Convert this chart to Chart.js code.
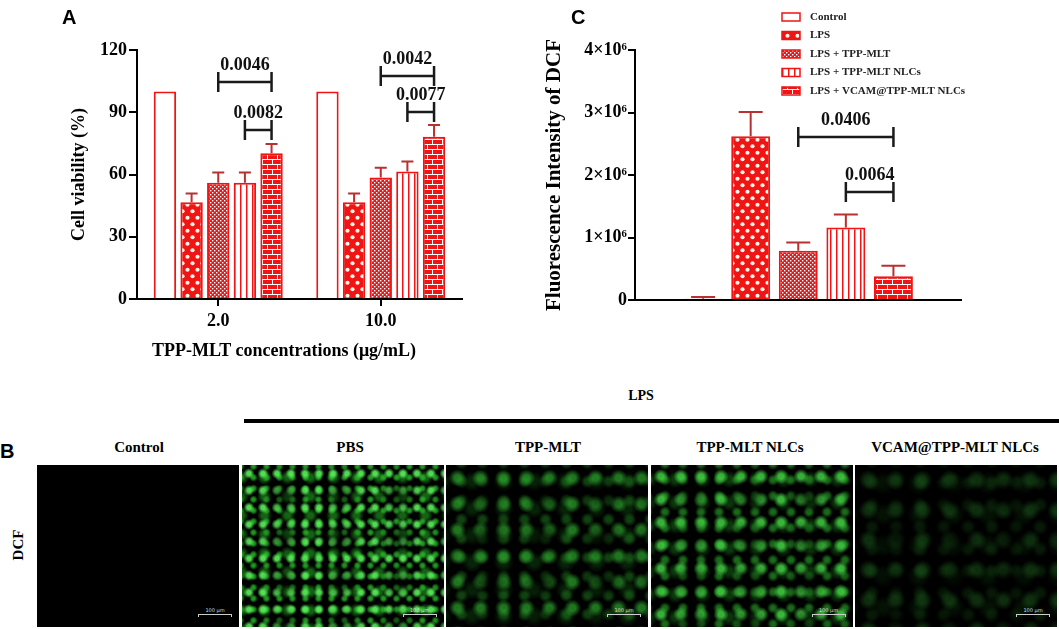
<!DOCTYPE html>
<html lang="en">
<head>
<meta charset="utf-8">
<title>Cell viability and DCF fluorescence</title>
<script src="https://cdn.jsdelivr.net/npm/chart.js@4.4.1/dist/chart.umd.min.js"></script>
<style>
  html, body { margin: 0; padding: 0; background: #fff; }
  body { position: relative; width: 1059px; height: 629px; overflow: hidden;
         font-family: "Liberation Serif", "Times New Roman", serif; color: #000; }
  canvas { position: absolute; display: block; }
  #chartA { left: 0; top: 0; }
  #chartC { left: 530px; top: 0; }
  .letter { position: absolute; font: bold 20px "Liberation Sans", Arial, sans-serif; line-height: 1; }
  .txt { position: absolute; font-weight: bold; white-space: nowrap; transform: translate(-50%, -50%); }
  .lps-line { position: absolute; left: 244px; top: 419px; width: 815px; height: 4px; background: #000; }
  .tile { position: absolute; top: 465px; height: 162px; background-color: #000; }
  .scalebar { position: absolute; right: 7px; bottom: 10px; width: 32px; height: 2px;
              border-top: 1px solid #ccc; border-left: 1px solid #ccc; border-right: 1px solid #ccc;
              color: #ddd; font: 5px "DejaVu Sans", sans-serif; text-align: center; line-height: 1; }
  .scalebar span { position: relative; top: -7px; }
  #axisC { position: absolute; height: 2px; background: #000; z-index: 5; }
</style>
</head>
<body>
<canvas id="chartA" width="480" height="370"></canvas>
<canvas id="chartC" width="529" height="320"></canvas>
<div id="axisC"></div>
<div class="letter" style="left:62px;top:7px">A</div>
<div class="letter" style="left:571px;top:7px">C</div>
<div class="letter" style="left:0;top:441px">B</div>
<div class="txt" style="left:284px;top:350px;font-size:18px">TPP-MLT concentrations (μg/mL)</div>
<div id="panelB"></div>

<script>
// ---- data ----
const groupNames = ['Control', 'LPS', 'LPS + TPP-MLT', 'LPS + TPP-MLT NLCs', 'LPS + VCAM@TPP-MLT NLCs'];

// panel A: cell viability (%) at two TPP-MLT concentrations
const concentrations = ['2.0', '10.0'];
const viabilityControl = [100, 100];
const viabilityLps = [46.6, 46.6];
const viabilityTppMlt = [56.0, 58.6];
const viabilityNlc = [56.0, 61.4];
const viabilityVcam = [70.2, 78.2];
const viabilitySd = [[0, 0], [4.3, 4.3], [5.0, 4.7], [5.0, 4.9], [4.5, 5.7]];
const viabilityTicks = [0, 30, 60, 90, 120];
const viabilityBrackets = [
  { a: [2, 0], b: [4, 0], level: 104.6, label: '0.0046' },
  { a: [3, 0], b: [4, 0], level: 81.4, label: '0.0082' },
  { a: [2, 1], b: [4, 1], level: 107.5, label: '0.0042' },
  { a: [3, 1], b: [4, 1], level: 90.1, label: '0.0077' }
];

// panel C: DCF fluorescence intensity
const dcfMeans = [0.02e6, 2.62e6, 0.79e6, 1.16e6, 0.38e6];
const dcfSd = [0.03e6, 0.39e6, 0.13e6, 0.21e6, 0.17e6];
const dcfTicks = [0, 1e6, 2e6, 3e6, 4e6];
const dcfBrackets = [
  { a: [0, 2], b: [0, 4], level: 2.61e6, label: '0.0406' },
  { a: [0, 3], b: [0, 4], level: 1.73e6, label: '0.0064' }
];

// panel B: image columns
const imageColumns = ['Control', 'PBS', 'TPP-MLT', 'TPP-MLT NLCs', 'VCAM@TPP-MLT NLCs'];

const SERIF = '"Liberation Serif", "Times New Roman", serif';
const RED = '#f01414';
const ERR = '#b83030';

// ---- bar fills ----
function makePattern(kind) {
  if (kind === 'open') return '#ffffff';
  const c = document.createElement('canvas');
  const g = c.getContext('2d');
  if (kind === 'diamond') {
    c.width = 10; c.height = 13;
    g.fillStyle = RED; g.fillRect(0, 0, 10, 13);
    g.fillStyle = '#fff6e6';
    [[2.5, 3.25], [7.5, 9.75]].forEach(([x, y]) => {
      g.beginPath(); g.arc(x, y, 2.1, 0, Math.PI * 2); g.fill();
    });
  } else if (kind === 'check') {
    c.width = 4; c.height = 4;
    g.fillStyle = RED; g.fillRect(0, 0, 4, 4);
    g.fillStyle = '#fff';
    g.fillRect(0, 0, 1.4, 1.4); g.fillRect(2, 2, 1.4, 1.4);
  } else if (kind === 'vline') {
    c.width = 6; c.height = 4;
    g.fillStyle = '#fff'; g.fillRect(0, 0, 6, 4);
    g.fillStyle = RED; g.fillRect(0, 0, 1.5, 4);
  } else if (kind === 'brick') {
    c.width = 10; c.height = 10;
    g.fillStyle = RED; g.fillRect(0, 0, 10, 10);
    g.fillStyle = '#fff';
    g.fillRect(0, 4, 10, 1); g.fillRect(0, 9, 10, 1);
    g.fillRect(2, 0, 1, 4); g.fillRect(7, 5, 1, 4);
  }
  return g.createPattern(c, 'repeat');
}
const fills = ['open', 'diamond', 'check', 'vline', 'brick'].map(makePattern);

// ---- plugins ----
// panel C has a hidden linear x axis, so its baseline is stroked here along the chart area
const baselinePlugin = {
  id: 'zeroLine',
  afterDraw(chart) {
    const { ctx, chartArea } = chart;
    ctx.save();
    ctx.fillStyle = '#000';
    ctx.fillRect(chartArea.left - 1, chartArea.bottom - 1, chartArea.right - chartArea.left + 1, 2);
    ctx.restore();
  }
};

const errorBarPlugin = {
  id: 'errorBars',
  afterDatasetsDraw(chart, args, opts) {
    const { ctx } = chart;
    const y = chart.scales.y;
    ctx.save();
    ctx.strokeStyle = opts.color;
    ctx.lineWidth = 2;
    opts.errors.forEach((errs, di) => {
      const meta = chart.getDatasetMeta(di);
      meta.data.forEach((bar, i) => {
        const raw = chart.data.datasets[di].data[i];
        const v = typeof raw === 'object' ? raw.y : raw;
        if (!errs[i]) return;
        const top = y.getPixelForValue(v + errs[i]);
        ctx.beginPath();
        ctx.moveTo(bar.x, bar.y);
        ctx.lineTo(bar.x, top);
        ctx.moveTo(bar.x - opts.cap / 2, top);
        ctx.lineTo(bar.x + opts.cap / 2, top);
        ctx.stroke();
      });
    });
    ctx.restore();
  }
};

const bracketPlugin = {
  id: 'sigBrackets',
  afterDraw(chart, args, opts) {
    const { ctx } = chart;
    const y = chart.scales.y;
    const barX = ref => chart.getDatasetMeta(ref[0]).data[ref[1]].x;
    ctx.save();
    ctx.strokeStyle = '#1a1a1a';
    ctx.lineWidth = 2.5;
    ctx.fillStyle = '#111';
    ctx.font = `bold ${opts.fontSize}px ${SERIF}`;
    ctx.textAlign = 'center';
    ctx.textBaseline = 'middle';
    opts.items.forEach(item => {
      const x1 = barX(item.a), x2 = barX(item.b);
      const yy = y.getPixelForValue(item.level);
      ctx.beginPath();
      ctx.moveTo(x1, yy); ctx.lineTo(x2, yy);
      ctx.moveTo(x1, yy - 10); ctx.lineTo(x1, yy + 10);
      ctx.moveTo(x2, yy - 10); ctx.lineTo(x2, yy + 10);
      ctx.stroke();
      ctx.fillText(item.label, (x1 + x2) / 2, yy - 17);
    });
    ctx.restore();
  }
};

const legendPlugin = {
  id: 'patternLegend',
  afterDraw(chart, args, opts) {
    const { ctx } = chart;
    ctx.save();
    ctx.font = `bold 11px ${SERIF}`;
    ctx.textBaseline = 'middle';
    groupNames.forEach((name, i) => {
      const yy = opts.top + i * opts.step;
      ctx.fillStyle = fills[i];
      ctx.fillRect(opts.left, yy - 4, 18, 8);
      ctx.strokeStyle = RED;
      ctx.lineWidth = 1.5;
      ctx.strokeRect(opts.left, yy - 4, 18, 8);
      ctx.fillStyle = '#222';
      ctx.fillText(name, opts.left + 28, yy);
    });
    ctx.restore();
  }
};

const axisLine = { color: '#000', width: 2 };
const tickGrid = { drawOnChartArea: false, color: '#000', lineWidth: 2, tickLength: 8 };
const boldFont = size => ({ family: SERIF, size, weight: 'bold' });

// ---- panel A ----
const viabilityMeans = [viabilityControl, viabilityLps, viabilityTppMlt, viabilityNlc, viabilityVcam];

new Chart(document.getElementById('chartA'), {
  type: 'bar',
  data: {
    labels: concentrations,
    datasets: groupNames.map((name, i) => ({
      label: name,
      data: viabilityMeans[i],
      backgroundColor: fills[i],
      borderColor: RED,
      borderWidth: 2,
      barPercentage: 0.84,
      categoryPercentage: 0.82
    }))
  },
  options: {
    responsive: false,
    animation: false,
    layout: { padding: { top: 50, right: 18, left: 0, bottom: 0 } },
    plugins: {
      legend: { display: false },
      tooltip: { enabled: false },
      errorBars: { errors: viabilitySd, color: ERR, cap: 12 },
      sigBrackets: { items: viabilityBrackets, fontSize: 18 }
    },
    scales: {
      x: {
        grid: { ...tickGrid, offset: false, tickLength: 7 },
        border: axisLine,
        ticks: { color: '#000', font: boldFont(18), padding: 5 },
        afterFit: s => { s.height = 71; }
      },
      y: {
        min: 0, max: 120,
        afterBuildTicks: s => { s.ticks = viabilityTicks.map(value => ({ value })); },
        grid: tickGrid,
        border: axisLine,
        ticks: { color: '#000', font: boldFont(18), padding: 2 },
        title: { display: true, text: 'Cell viability (%)', color: '#000',
                 font: boldFont(18), padding: { top: 69, bottom: 0 } },
        afterFit: s => { s.width = 137; }
      }
    }
  },
  plugins: [errorBarPlugin, bracketPlugin]
});

// ---- panel C ----
const chartC = new Chart(document.getElementById('chartC'), {
  type: 'bar',
  data: {
    datasets: [{
      label: 'DCF',
      data: dcfMeans.map((v, i) => ({ x: i + 1, y: v })),
      backgroundColor: fills,
      borderColor: RED,
      borderWidth: 2,
      barPercentage: 0.87,
      categoryPercentage: 1
    }]
  },
  options: {
    responsive: false,
    animation: false,
    layout: { padding: { top: 50, right: 97, left: 0, bottom: 20 } },
    plugins: {
      legend: { display: false },
      tooltip: { enabled: false },
      errorBars: { errors: [dcfSd], color: ERR, cap: 24 },
      sigBrackets: { items: dcfBrackets, fontSize: 18 },
      patternLegend: { left: 252, top: 17, step: 18.5 }
    },
    scales: {
      x: { type: 'linear', min: 0.06, max: 5.95, display: false },
      y: {
        min: 0, max: 4e6,
        afterBuildTicks: s => { s.ticks = dcfTicks.map(value => ({ value })); },
        grid: { ...tickGrid, tickLength: 7 },
        border: axisLine,
        ticks: {
          color: '#000', font: boldFont(18), padding: 1,
          callback: v => (v === 0 ? '0' : `${v / 1e6}×10⁶`)
        },
        title: { display: true, text: 'Fluorescence Intensity of DCF', color: '#000',
                 font: boldFont(21), padding: { top: 12, bottom: 0 } },
        afterFit: s => { s.width = 105; }
      }
    }
  },
  plugins: [baselinePlugin, errorBarPlugin, bracketPlugin, legendPlugin]
});

// the canvas baseline would not show on the full page, so lay a thin rule over it,
// placed from the chart's own area and zero pixel
const areaC = chartC.chartArea;
const zeroC = chartC.scales.y.getPixelForValue(0);
const canvasC = document.getElementById('chartC');
const axisC = document.getElementById('axisC');
axisC.style.left = `${canvasC.offsetLeft + areaC.left - 1}px`;
axisC.style.top = `${canvasC.offsetTop + zeroC - 1}px`;
axisC.style.width = `${areaC.right - areaC.left + 1}px`;

// ---- panel B: fluorescence image strip ----
// glow colours and dot spacings per column (control is plain black)
const tileGlow = [
  null,
  ['rgba(90,240,90,.9)', 'rgba(40,185,40,.8)', 'rgba(30,140,30,.7)', 14, 11, 23],
  ['rgba(45,165,45,.7)', 'rgba(30,120,30,.55)', 'rgba(20,90,20,.4)', 23, 19, 31],
  ['rgba(65,205,65,.85)', 'rgba(40,160,40,.65)', 'rgba(25,110,25,.5)', 20, 16, 27],
  ['rgba(30,100,30,.45)', 'rgba(20,75,20,.35)', 'rgba(15,60,15,.3)', 27, 22, 35]
];
const labelCenters = [139, 350, 548, 750, 955];

const panelB = document.getElementById('panelB');
panelB.insertAdjacentHTML('beforeend',
  `<div class="txt" style="left:641px;top:396px;font-size:14px">LPS</div><div class="lps-line"></div>` +
  `<div class="txt" style="left:18px;top:545px;font-size:15px;transform:translate(-50%,-50%) rotate(-90deg)">DCF</div>`);

imageColumns.forEach((name, i) => {
  const left = 37 + i * 204.5;
  const glow = tileGlow[i];
  let bg = 'background-color:#000;';
  if (glow) {
    const [c1, c2, c3, s1, s2, s3] = glow;
    const dot = c => `radial-gradient(circle, ${c} 0, ${c} 18%, rgba(0,0,0,0) 50%)`;
    // a large soft dark layer on top breaks up the regular dot grid
    const shade = 'radial-gradient(ellipse, rgba(0,0,0,.55) 0, rgba(0,0,0,0) 60%)';
    bg += `background-image:${shade},${dot(c1)},${dot(c2)},${dot(c3)};` +
          `background-size:57px 43px, ${s1}px ${s1 + 3}px, ${s2 + 2}px ${s2}px, ${s3}px ${s3 - 4}px;` +
          `background-position:13px 9px, 0 0, 5px 7px, 11px 3px;`;
  }
  panelB.insertAdjacentHTML('beforeend',
    `<div class="txt" style="left:${labelCenters[i]}px;top:447px;font-size:15px">${name}</div>` +
    `<div class="tile" style="left:${left}px;width:202px;${bg}"><div class="scalebar"><span>100 μm</span></div></div>`);
});
</script>
</body>
</html>
